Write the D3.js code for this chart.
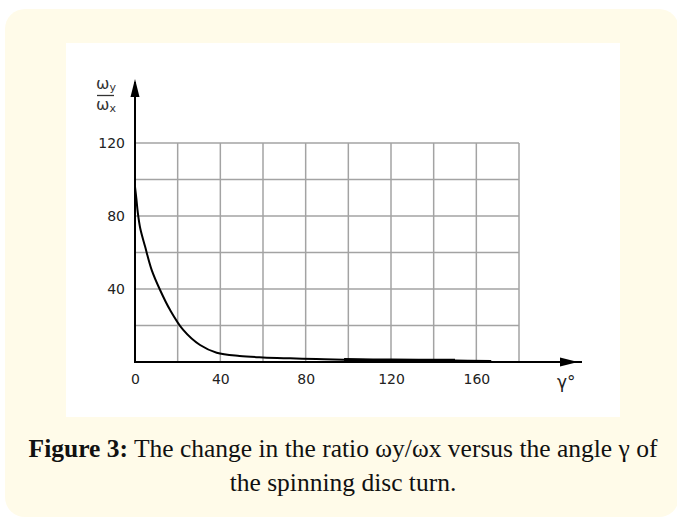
<!DOCTYPE html>
<html>
<head>
<meta charset="utf-8">
<script src="https://cdn.jsdelivr.net/npm/d3@7"></script>
<style>
  body { margin: 0; background: #fff; }
  svg { display: block; }
</style>
</head>
<body>
<script>
// Values: angle gamma (deg) vs ratio wy/wx
var gamma = [0, 0.6, 1.3, 2.5, 4.7, 7.8, 11.7, 16.4, 22.6, 30.5, 38.3, 49, 60, 72.7, 85, 98, 120, 150, 167];
var ratio = [96, 90, 82, 73, 63.4, 50.5, 39.6, 28.6, 17.6, 9.3, 5.1, 3.3, 2.5, 2.0, 1.6, 1.2, 0.9, 0.8, 0.6];
var xTickLabels = [0, 40, 80, 120, 160];
var yTickLabels = [40, 80, 120];
var xGrid = [20, 40, 60, 80, 100, 120, 140, 160, 180];
var yGrid = [20, 40, 60, 80, 100, 120];
// part of the curve printed heavier in the original
var heavyFrom = 98, heavyTo = 150;

var W = 677, H = 518;
var svg = d3.select("body").append("svg")
  .attr("width", W)
  .attr("height", H);

// cream card with the white figure area inside
svg.append("rect")
  .attr("x", 5).attr("y", 9)
  .attr("width", 674).attr("height", 508)
  .attr("rx", 20).attr("ry", 20)
  .attr("fill", "#fffbe9");
svg.append("rect")
  .attr("x", 66).attr("y", 43)
  .attr("width", 554).attr("height", 374)
  .attr("fill", "#ffffff");

// scales
var x = d3.scaleLinear().domain([0, 180]).range([135, 519]);
var y = d3.scaleLinear().domain([0, 120]).range([362, 143]);

// grid
var grid = svg.append("g").attr("stroke", "#a3a3a3").attr("stroke-width", 1.5);
grid.selectAll(".vg").data(xGrid).enter().append("line")
  .attr("x1", function(d) { return x(d); })
  .attr("x2", function(d) { return x(d); })
  .attr("y1", y(0)).attr("y2", y(120));
grid.selectAll(".hg").data(yGrid).enter().append("line")
  .attr("x1", x(0)).attr("x2", x(180))
  .attr("y1", function(d) { return y(d); })
  .attr("y2", function(d) { return y(d); });

// tick labels through d3 axes (no tick marks / domain)
var labelFont = "'DejaVu Sans', Verdana, sans-serif";
var xAxis = svg.append("g")
  .attr("transform", "translate(0," + (y(0) + 8) + ")")
  .call(d3.axisBottom(x).tickValues(xTickLabels).tickSize(0).tickPadding(4));
var yAxis = svg.append("g")
  .attr("transform", "translate(" + (x(0) - 8) + ",0)")
  .call(d3.axisLeft(y).tickValues(yTickLabels).tickSize(0).tickPadding(2));
[xAxis, yAxis].forEach(function(a) {
  a.select(".domain").remove();
  a.selectAll("text")
    .attr("fill", "#222")
    .style("font-family", labelFont)
    .style("font-size", "14px");
});

// axes with arrows
var axes = svg.append("g").attr("stroke", "#000").attr("stroke-width", 2);
axes.append("line")
  .attr("x1", x(0)).attr("x2", 582)
  .attr("y1", y(0)).attr("y2", y(0));
axes.append("line")
  .attr("x1", x(0)).attr("x2", x(0))
  .attr("y1", y(0) + 1).attr("y2", 82);
svg.append("path")
  .attr("d", "M560," + (y(0) - 4.5) + "L578," + y(0) + "L560," + (y(0) + 4.5) + "Z")
  .attr("fill", "#000");
svg.append("path")
  .attr("d", "M" + (x(0) - 4.5) + ",97L" + x(0) + ",79L" + (x(0) + 4.5) + ",97Z")
  .attr("fill", "#000");

// curve
var pts = gamma.map(function(g, i) { return {g: g, r: ratio[i]}; });
var line = d3.line()
  .x(function(d) { return x(d.g); })
  .y(function(d) { return y(d.r); })
  .curve(d3.curveCatmullRom.alpha(0.5));
svg.append("path")
  .attr("d", line(pts))
  .attr("fill", "none")
  .attr("stroke", "#000")
  .attr("stroke-width", 2);
svg.append("path")
  .attr("d", line(pts.filter(function(d) { return d.g >= heavyFrom && d.g <= heavyTo; })))
  .attr("fill", "none")
  .attr("stroke", "#000")
  .attr("stroke-width", 3.5);

// y title: the fraction wy / wx
var yl = svg.append("g")
  .attr("fill", "#333")
  .style("font-family", labelFont);
var num = yl.append("text").attr("x", 96).attr("y", 89).style("font-size", "16px");
num.append("tspan").text("ω");
num.append("tspan").attr("dy", 2).style("font-size", "11px").text("y");
var den = yl.append("text").attr("x", 96).attr("y", 110).style("font-size", "16px");
den.append("tspan").text("ω");
den.append("tspan").attr("dy", 2).style("font-size", "11px").text("x");
svg.append("line")
  .attr("x1", 97).attr("x2", 114).attr("y1", 95.5).attr("y2", 95.5)
  .attr("stroke", "#333").attr("stroke-width", 1.3);

svg.append("text")
  .attr("x", 557).attr("y", 388)
  .attr("fill", "#222")
  .style("font-family", labelFont)
  .style("font-size", "17px")
  .text("γ°");

// caption
var capFont = "'Liberation Serif', 'Times New Roman', serif";
var cap1 = svg.append("text")
  .attr("x", 343).attr("y", 457)
  .attr("text-anchor", "middle")
  .attr("fill", "#111")
  .style("font-family", capFont)
  .style("font-size", "25.5px");
cap1.append("tspan").style("font-weight", "bold").text("Figure 3:");
cap1.append("tspan").text(" The change in the ratio ωy/ωx versus the angle γ of");
svg.append("text")
  .attr("x", 343).attr("y", 491)
  .attr("text-anchor", "middle")
  .attr("fill", "#111")
  .style("font-family", capFont)
  .style("font-size", "25.5px")
  .text("the spinning disc turn.");
</script>
</body>
</html>
